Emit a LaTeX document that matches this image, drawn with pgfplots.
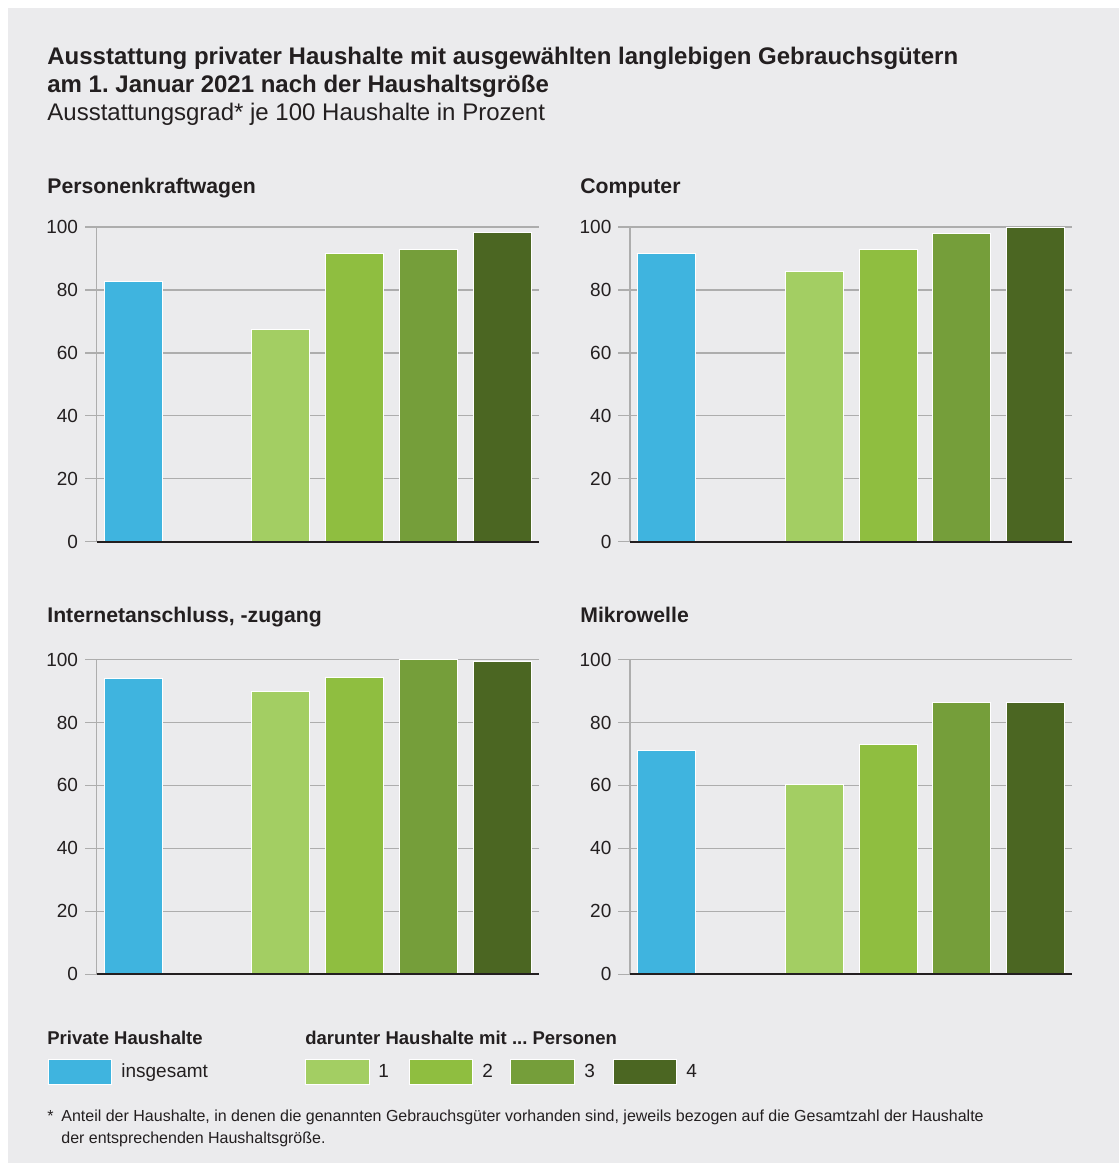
\documentclass[border=0pt]{standalone}
\usepackage{pgfplots}
\pgfplotsset{compat=1.18}
\usepackage{fontspec}
\setmainfont{Liberation Sans}
\frenchspacing
\definecolor{bg}{HTML}{EBEBED}
\definecolor{txt}{HTML}{231F20}
\definecolor{gridc}{HTML}{ADADAD}
\definecolor{cblue}{HTML}{3FB4DF}
\definecolor{gA}{HTML}{A3CE63}
\definecolor{gB}{HTML}{8FBE40}
\definecolor{gC}{HTML}{759E3A}
\definecolor{gD}{HTML}{4B6622}
\pgfplotsset{panel/.style={
  scale only axis, width=221.15pt, height=157.4pt,
  anchor=south west,
  xmin=-0.5, xmax=5.5, ymin=0, ymax=100,
  ytick={0,20,...,100}, xtick=\empty,
  axis x line*=bottom, axis y line*=left,
  x axis line style={draw=none},
  y axis line style={draw=gridc, line width=0.7pt, -},
  ymajorgrids, major grid style={draw=gridc, line width=0.7pt},
  tick align=outside, major tick length=5.8pt,
  ytick style={draw=gridc, line width=0.7pt},
  yticklabel style={font=\fontsize{9.5}{11}\selectfont, text=txt},
  /pgf/number format/assume math mode=true,
  ybar, bar width=29pt,
  every axis plot/.append style={draw=white, line width=0.5pt, bar shift=0pt},
  clip=false,
}}
\newcommand{\baseline}{\draw[txt, line width=1.1pt] (rel axis cs:0,0) -- (rel axis cs:1,0);}
\begin{document}
\begin{tikzpicture}
\useasboundingbox (0,0) rectangle (559.5pt,-581.5pt);
\fill[white] (0,0) rectangle (559.5pt,-581.5pt);
\fill[bg] (4pt,-4pt) rectangle (559.5pt,-581.5pt);

\node[anchor=base west, inner sep=0, text=txt, font=\fontsize{12}{14}\selectfont\bfseries] at (23.5pt,-32pt) {Ausstattung privater Haushalte mit ausgewählten langlebigen Gebrauchsgütern};
\node[anchor=base west, inner sep=0, text=txt, font=\fontsize{12}{14}\selectfont\bfseries] at (23.5pt,-46.25pt) {am 1. Januar 2021 nach der Haushaltsgröße};
\node[anchor=base west, inner sep=0, text=txt, font=\fontsize{12}{14}\selectfont] at (23.5pt,-60.25pt) {Ausstattungsgrad* je 100 Haushalte in Prozent};

\node[anchor=base west, inner sep=0, text=txt, font=\fontsize{10.6}{12}\selectfont\bfseries] at (23.5pt,-96.65pt) {Personenkraftwagen};
\node[anchor=base west, inner sep=0, text=txt, font=\fontsize{10.6}{12}\selectfont\bfseries] at (290pt,-96.65pt) {Computer};
\node[anchor=base west, inner sep=0, text=txt, font=\fontsize{10.6}{12}\selectfont\bfseries] at (23.5pt,-311.15pt) {Internetanschluss, -zugang};
\node[anchor=base west, inner sep=0, text=txt, font=\fontsize{10.6}{12}\selectfont\bfseries] at (290pt,-311.15pt) {Mikrowelle};

% Personenkraftwagen
\begin{axis}[panel, at={(48.35pt,-270.85pt)}]
\addplot[fill=cblue] coordinates {(0,82.8)};
\addplot[fill=gA] coordinates {(2,67.4)};
\addplot[fill=gB] coordinates {(3,91.4)};
\addplot[fill=gC] coordinates {(4,92.9)};
\addplot[fill=gD] coordinates {(5,98.2)};
\baseline
\end{axis}
% Computer
\begin{axis}[panel, at={(315pt,-270.85pt)}]
\addplot[fill=cblue] coordinates {(0,91.4)};
\addplot[fill=gA] coordinates {(2,85.7)};
\addplot[fill=gB] coordinates {(3,92.8)};
\addplot[fill=gC] coordinates {(4,97.8)};
\addplot[fill=gD] coordinates {(5,99.8)};
\baseline
\end{axis}
% Internet
\begin{axis}[panel, at={(48.35pt,-487.15pt)}]
\addplot[fill=cblue] coordinates {(0,94.0)};
\addplot[fill=gA] coordinates {(2,89.9)};
\addplot[fill=gB] coordinates {(3,94.4)};
\addplot[fill=gC] coordinates {(4,99.9)};
\addplot[fill=gD] coordinates {(5,99.5)};
\baseline
\end{axis}
% Mikrowelle
\begin{axis}[panel, at={(315pt,-487.15pt)}]
\addplot[fill=cblue] coordinates {(0,71.0)};
\addplot[fill=gA] coordinates {(2,60.2)};
\addplot[fill=gB] coordinates {(3,73.0)};
\addplot[fill=gC] coordinates {(4,86.5)};
\addplot[fill=gD] coordinates {(5,86.2)};
\baseline
\end{axis}

% Legend
\node[anchor=base west, inner sep=0, text=txt, font=\fontsize{9.25}{11}\selectfont\bfseries] at (23.5pt,-522pt) {Private Haushalte};
\node[anchor=base west, inner sep=0, text=txt, font=\fontsize{9.25}{11}\selectfont\bfseries] at (152.5pt,-522pt) {darunter Haushalte mit ... Personen};
\filldraw[fill=cblue, draw=white, line width=0.4pt] (24pt,-529.5pt) rectangle (55.5pt,-542pt);
\node[anchor=base west, inner sep=0, text=txt, font=\fontsize{9.5}{11}\selectfont] at (60.5pt,-538.5pt) {insgesamt};
\filldraw[fill=gA, draw=white, line width=0.4pt] (152.5pt,-529.5pt) rectangle (184.5pt,-542pt);
\node[anchor=base west, inner sep=0, text=txt, font=\fontsize{9.5}{11}\selectfont] at (189pt,-538.5pt) {1};
\filldraw[fill=gB, draw=white, line width=0.4pt] (204.5pt,-529.5pt) rectangle (236pt,-542pt);
\node[anchor=base west, inner sep=0, text=txt, font=\fontsize{9.5}{11}\selectfont] at (241pt,-538.5pt) {2};
\filldraw[fill=gC, draw=white, line width=0.4pt] (255pt,-529.5pt) rectangle (287pt,-542pt);
\node[anchor=base west, inner sep=0, text=txt, font=\fontsize{9.5}{11}\selectfont] at (292pt,-538.5pt) {3};
\filldraw[fill=gD, draw=white, line width=0.4pt] (306.5pt,-529.5pt) rectangle (338pt,-542pt);
\node[anchor=base west, inner sep=0, text=txt, font=\fontsize{9.5}{11}\selectfont] at (343pt,-538.5pt) {4};

% Footnote
\node[anchor=base west, inner sep=0, text=txt, font=\fontsize{8}{9}\selectfont] at (23.5pt,-560.8pt) {*};
\node[anchor=base west, inner sep=0, text=txt, font=\fontsize{8}{9}\selectfont] at (30.5pt,-560.8pt) {Anteil der Haushalte, in denen die genannten Gebrauchsgüter vorhanden sind, jeweils bezogen auf die Gesamtzahl der Haushalte};
\node[anchor=base west, inner sep=0, text=txt, font=\fontsize{8}{9}\selectfont] at (30.5pt,-571.6pt) {der entsprechenden Haushaltsgröße.};
\end{tikzpicture}
\end{document}
